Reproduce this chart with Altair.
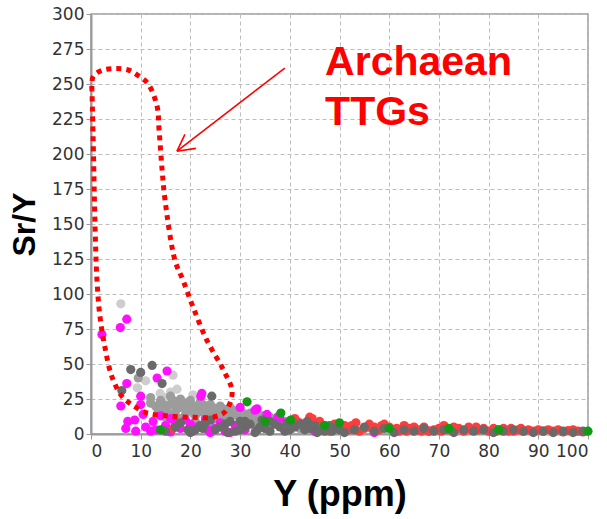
import altair as alt
import pandas as pd

# ---------------- data ----------------
lgray_x = [6.0, 16.5, 9.3, 17.3, 13.9, 40.4, 91.7, 12, 15, 11, 19, 20.5, 14, 16, 22]
lgray_y = [93, 42, 33, 32, 29, 3.6, 2, 24, 26, 38, 22, 28, 18, 30, 25]

mgray_x = [9.5, 12, 13, 14, 15, 16, 17, 17, 18, 19, 19, 20, 21, 21, 22, 23, 23, 24, 25, 25,
           26, 27, 27, 28, 29, 30, 31, 32, 33, 34, 35, 36, 37, 38, 39, 40, 41, 42, 43, 44,
           45, 46, 47, 48, 12, 14, 16, 18, 20, 22, 24, 26, 28, 30, 32, 34, 36, 38, 15, 18,
           21, 24, 27, 30, 33, 36, 39, 42, 45, 50,
           13.5, 15.5, 17.5, 19.5, 21.5, 23.5, 25.5, 27.5, 29.5, 31.5, 33.5, 35.5, 37.5, 39.5,
           41.5, 43.5, 14.5, 16.5, 18.5, 20.5, 22.5, 24.5, 26.5, 28.5, 30.5, 32.5, 34.5]
mgray_y = [40, 22, 20, 24, 18, 21, 16, 23, 19, 14, 22, 17, 20, 13, 16, 19, 12, 15, 18, 11,
           14, 17, 10, 13, 16, 11, 14, 10, 12, 9, 11, 8, 10, 7, 9, 6, 8, 5, 7, 6,
           8, 5, 6, 4, 26, 15, 27, 25, 24, 23, 21, 20, 19, 17, 15, 13, 12, 11, 12, 11,
           9, 8, 7, 6, 6, 5, 4, 4, 3, 3,
           17, 15, 20, 17, 18, 14, 16, 14, 13, 12, 10, 9, 12, 8,
           9, 6, 21, 24, 22, 20, 21, 19, 18, 17, 15, 14, 13]

mag_x = [7.2, 5.9, 2.2, 15.3, 13.3, 7.2, 10, 22.1, 6, 10, 7.4, 8.8, 7, 11, 12.5, 17, 18,
         21.5, 23.5, 22.3, 30, 33.4, 35.4, 38, 37.6, 25, 27, 29, 14, 16, 19, 13, 26, 28,
         57, 45, 62, 20, 24, 31, 15, 9, 12, 20.5, 26.5, 33, 68, 10.5, 16, 23, 29.5]
mag_y = [82, 76, 71, 45, 40, 36, 27, 27, 20, 21, 9, 10, 4, 5, 9, 8, 4,
         5, 3, 29, 19, 18, 14, 11, 12, 4, 2, 6, 13, 11, 10, 3, 8, 1,
         1, 2, 3, 7, 1, 3, 6, 2, 2, 2, 5, 17, 2, 14, 1.5, 10, 3]

red_x = [16.5, 44, 44.5, 53.3, 58.5, 50, 52, 55, 56, 60, 61, 63, 64, 66, 67, 68, 70, 71,
         72, 74, 75, 76, 78, 79, 80, 82, 83, 84, 86, 87, 88, 89, 90, 93, 94, 95, 96, 97,
         98, 99, 47, 49, 46, 42, 54, 58, 62, 65, 69, 73, 77, 81, 85, 59, 51, 41, 57, 63.5,
         70.5, 77.5, 84.5, 91, 48, 52.5, 56.5, 61.5, 66.5, 71.5, 76.5, 81.5, 86.5, 92]
red_y = [4, 12, 11, 8, 6, 5, 3, 4, 7, 5, 3, 6, 4, 3, 5, 2, 4, 6,
         3, 4, 2, 5, 3, 4, 2, 3, 4, 2, 3, 2, 3, 2, 3, 2, 3, 1.5, 2.5, 3,
         2, 1.5, 4, 7, 9, 8, 2, 3, 2, 5, 3, 5, 3, 4, 2, 7, 6, 11, 5, 2,
         2, 5, 4, 2, 2, 6, 4, 4, 2, 4, 3, 2, 4, 3]

dgray_x = [8, 12.3, 10, 14.3, 6.2, 24.3, 19.5, 22.5, 43.5, 34.4,
           15, 17, 20, 22, 25, 27, 29, 31, 33, 35, 37, 39, 41, 43, 45, 47, 49, 51, 53, 55,
           57, 59, 61, 63, 65, 67, 69, 71, 73, 75, 77, 79, 81, 83, 85, 87, 89, 91, 93, 95,
           97, 99, 21, 23, 26, 28, 30, 32, 34, 36, 38, 40, 42, 44, 46, 48, 50, 36, 31, 27.5,
           33.5, 39.5, 45.5, 18, 24, 30, 35, 40, 44, 48.5]
dgray_y = [46, 49, 44, 36, 31, 27, 3, 4, 9, 10,
           2, 5, 1, 6, 3, 7, 2, 5, 1, 4, 7, 2, 5, 3, 6, 2, 4, 1, 3, 5,
           2, 4, 1, 3, 2, 4, 2, 3, 1, 3, 2, 3, 1, 2, 3, 2, 1, 2, 1, 2,
           1, 2, 3, 8, 5, 9, 3, 7, 5, 2, 5, 3, 7, 4, 3, 6, 3, 9, 9, 1,
           3, 8, 1, 8, 10, 9, 7, 8, 6, 2]

green_x = [14, 31.4, 38.2, 40.2, 50, 100, 35, 47, 60, 72, 82]
green_y = [3, 23, 15, 10, 8, 2, 9, 6, 4, 4, 3]

outline_x = [0.2, 0.4, 2.0, 4.8, 7.5, 9.5, 11.5, 13.3, 13.7, 14.3, 14.9, 16.9, 18.5, 20.5,
             23.3, 26.6, 28.4, 27.0, 24.5, 19.9, 15.3, 11.3, 8.2, 6.2, 4.2, 2.8, 1.8, 1.2,
             0.8, 0.5, 0.3, 0.2]
outline_y = [245, 255, 259.5, 261, 260, 256, 250, 234, 217, 189, 167, 124, 110, 91,
             67, 46, 30, 16, 12, 12, 13, 15, 21, 27, 41, 62, 84, 110,
             150, 200, 230, 245]

arrow_x = [39.0, 17.3, 17.3]
arrow_y = [261.4, 202, 202]
arrow_x2 = [17.3, 18.9, 21.1]
arrow_y2 = [202, 214, 204]

label_lines = ["Archaean", "TTGs"]
label_x = [47.1, 47.1]
label_y = [256.4, 220.7]

x_ticks = list(range(0, 101, 10))
y_ticks = list(range(0, 301, 25))

# ---------------- tables ----------------
groups = [
    ("lgray", lgray_x, lgray_y),
    ("mgray", mgray_x, mgray_y),
    ("mag", mag_x, mag_y),
    ("red", red_x, red_y),
    ("dgray", dgray_x, dgray_y),
    ("green", green_x, green_y),
]
rows = []
for g, xs_, ys_ in groups:
    for a, b in zip(xs_, ys_):
        rows.append({"x": a, "y": b, "g": g})
pts = pd.DataFrame(rows)
pts["i"] = range(len(pts))

outline = pd.DataFrame({"x": outline_x, "y": outline_y, "o": range(len(outline_x))})
arrow = pd.DataFrame({"x": arrow_x, "y": arrow_y, "x2": arrow_x2, "y2": arrow_y2})
labels = pd.DataFrame({"t": label_lines, "x": label_x, "y": label_y})

xs = alt.Scale(domain=[0, 100], nice=False, zero=False)
ys = alt.Scale(domain=[0, 300], nice=False, zero=False)

xaxis = alt.Axis(values=x_ticks, title="Y (ppm)", grid=True, labelOverlap=False)
yaxis = alt.Axis(values=y_ticks, title="Sr/Y", grid=True, labelOverlap=False)


def X(f="x:Q"):
    return alt.X(f, scale=xs, axis=xaxis)


def Y(f="y:Q"):
    return alt.Y(f, scale=ys, axis=yaxis)


points = alt.Chart(pts).mark_circle(size=85, opacity=1).encode(
    x=X(), y=Y(),
    color=alt.Color("g:N", legend=None, scale=alt.Scale(
        domain=["lgray", "mgray", "mag", "red", "dgray", "green"],
        range=["#cdcdcd", "#9c9c9c", "#ff10ff", "#ff3c3c", "#6a6a6a", "#129a12"])),
    order=alt.Order("i:Q"),
)

line = alt.Chart(outline).mark_line(
    color="#ff0000", strokeWidth=5, strokeDash=[5, 5], strokeCap="butt",
    interpolate="catmull-rom").encode(x=X(), y=Y(), order="o:Q")

arr = alt.Chart(arrow).mark_rule(color="#ff0000", strokeWidth=1.6).encode(
    x=X(), y=Y(), x2="x2:Q", y2="y2:Q")

txt = alt.Chart(labels).mark_text(
    align="left", baseline="alphabetic", font="Liberation Sans", fontWeight="bold",
    fontSize=41, color="#ff0000").encode(x=X(), y=Y(), text="t:N")

chart = alt.layer(points, line, arr, txt).properties(
    width=497, height=420,
    autosize=alt.AutoSizeParams(type="none"),
    padding={"left": 91, "top": 14, "right": 19, "bottom": 85},
).configure_view(
    stroke="#9a9a9a", strokeWidth=1.5
).configure_axis(
    labelFont="DejaVu Sans", labelFontSize=17, labelColor="#333333",
    titleFont="Liberation Sans", titleFontWeight="bold", titleColor="#000000",
    titleFontSize=36,
    domainColor="#9a9a9a", domainWidth=2,
    tickColor="#9a9a9a", tickSize=5, tickWidth=1,
    gridColor="#bdbdbd", gridDash=[4, 3], gridWidth=1,
).configure_axisX(
    labelPadding=4, titlePadding=18,
).configure_axisY(
    labelPadding=2, titlePadding=10, titleFontSize=32,
)

chart.save("out.html", embed_options={"renderer": "svg", "actions": False})
